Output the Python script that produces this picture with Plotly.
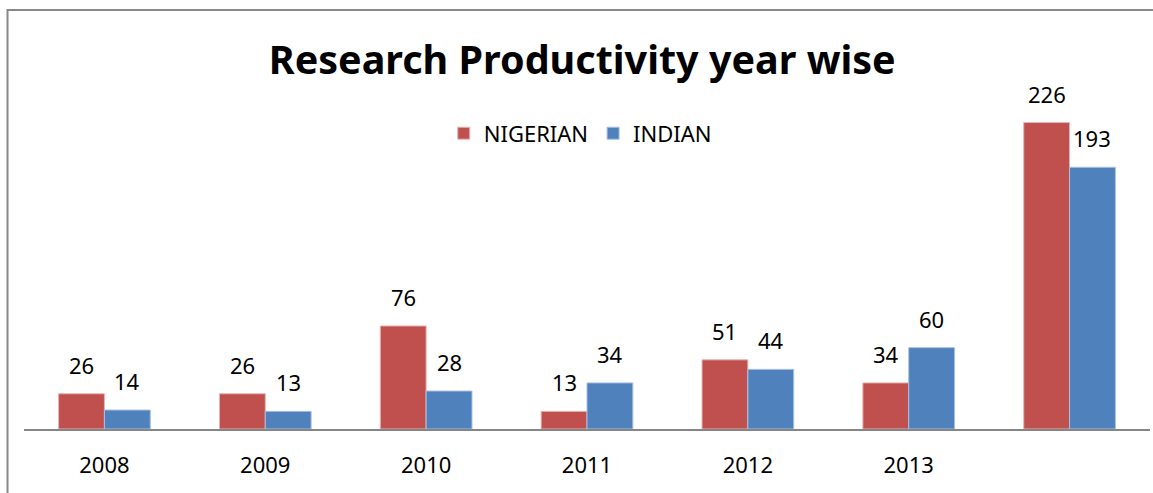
import plotly.graph_objects as go

years = ["2008", "2009", "2010", "2011", "2012", "2013", ""]
nigerian = [26, 26, 76, 13, 51, 34, 226]
indian = [14, 13, 28, 34, 44, 60, 193]

RED = "#C0504D"
BLUE = "#4F81BD"
FONT = "Noto Sans"

xpos = list(range(len(years)))
bargap = 0.43
half = (1 - bargap) / 4  # offset of each bar centre from the category centre

fig = go.Figure()
fig.add_trace(go.Bar(x=xpos, y=nigerian, name="NIGERIAN",
                     marker=dict(color=RED, line=dict(color="#E8B4B3", width=1))))
fig.add_trace(go.Bar(x=xpos, y=indian, name="INDIAN",
                     marker=dict(color=BLUE, line=dict(color="#A9C0E0", width=1))))

annotations = []
for i, (a, b) in enumerate(zip(nigerian, indian)):
    for val, dx in ((a, -half), (b, half)):
        annotations.append(dict(x=i + dx, y=val, xref="x", yref="y", text=str(val),
                                showarrow=False, yanchor="bottom", yshift=12,
                                font=dict(family=FONT, size=22, color="#000")))

fig.update_layout(
    width=1153, height=493,
    margin=dict(l=23.5, r=2.5, t=89.5, b=64),
    paper_bgcolor="white", plot_bgcolor="white",
    barmode="group", bargap=bargap, bargroupgap=0,
    title=dict(text="<b>Research Productivity year wise</b>", x=0.505, xanchor="center",
               y=1 - 60 / 493, yanchor="middle",
               font=dict(family=FONT, size=39.5, color="#000")),
    legend=dict(orientation="h", x=0.494, xanchor="center", y=0.872, yanchor="middle",
                font=dict(family=FONT, size=22, color="#000"), bgcolor="rgba(0,0,0,0)",
                itemwidth=30),
    xaxis=dict(tickmode="array", tickvals=xpos, ticktext=years, range=[-0.5, 6.5],
               showline=True, linecolor="#868686", linewidth=2, ticks="",
               ticklabelstandoff=16,
               showgrid=False, zeroline=False,
               tickfont=dict(family=FONT, size=22, color="#000")),
    yaxis=dict(range=[0, 250], visible=False, showgrid=False, zeroline=False),
    annotations=annotations,
    shapes=[dict(type="rect", xref="paper", yref="paper",
                 x0=(7 - 23.5) / 1127, x1=1.05, y0=-0.3, y1=(429 - 9.5) / 339.5,
                 line=dict(color="#898989", width=2), fillcolor="rgba(0,0,0,0)", layer="below")],
)

fig.write_html("out.html")
